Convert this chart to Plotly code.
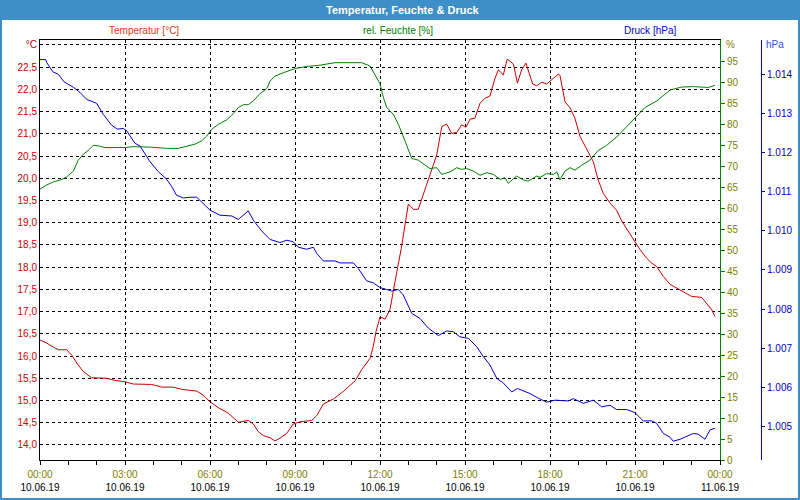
import plotly.graph_objects as go

# ---------------- data (hours since 10.06.19 00:00) ----------------
temp_hours = [0, 0.24, 0.47, 0.65, 0.94, 1.12, 1.30, 1.53, 1.82, 2.35, 2.65, 3.00, 3.29, 3.77, 3.94,
              4.30, 4.70, 5.00, 5.53, 5.76, 6.00, 6.29, 6.65, 7.00, 7.35, 7.53, 7.70, 7.88, 8.12, 8.29,
              8.47, 8.71, 8.94, 9.18, 9.59, 9.77, 10.00, 10.35, 10.70, 11.12, 11.35, 11.65, 11.76, 11.86,
              12.00, 12.18, 12.35, 12.53, 12.75, 13.00, 13.18, 13.35, 13.59, 13.76, 14.00, 14.18, 14.35,
              14.53, 14.71, 14.88, 15.04, 15.18, 15.35, 15.53, 15.71, 15.88, 16.06, 16.18, 16.35, 16.49,
              16.71, 16.85, 17.00, 17.15, 17.39, 17.53, 17.71, 17.88, 18.06, 18.29, 18.35, 18.53, 18.71,
              18.88, 19.06, 19.30, 19.53, 19.70, 19.88, 20.12, 20.35, 20.53, 20.76, 21.00, 21.18, 21.41,
              21.59, 21.77, 22.00, 22.24, 22.59, 23.00, 23.35, 23.53, 23.71, 23.82]
temp_values = [16.36, 16.29, 16.20, 16.14, 16.14, 16.02, 15.84, 15.65, 15.51, 15.50, 15.45, 15.42, 15.37,
               15.37, 15.36, 15.30, 15.30, 15.25, 15.21, 15.12, 14.97, 14.84, 14.71, 14.51, 14.55, 14.47,
               14.30, 14.21, 14.16, 14.09, 14.15, 14.26, 14.47, 14.52, 14.55, 14.66, 14.92, 15.03, 15.20,
               15.44, 15.69, 15.95, 16.21, 16.55, 16.88, 16.83, 17.04, 17.67, 18.42, 19.42, 19.30, 19.30,
               19.74, 20.07, 20.52, 21.16, 21.22, 21.01, 21.03, 21.20, 21.15, 21.33, 21.35, 21.69, 21.80,
               21.85, 22.25, 22.44, 22.32, 22.68, 22.57, 22.14, 22.44, 22.59, 22.12, 22.08, 22.16, 22.12,
               22.21, 22.34, 22.32, 21.72, 21.58, 21.35, 20.94, 20.64, 20.37, 19.96, 19.66, 19.44, 19.28,
               19.04, 18.80, 18.57, 18.39, 18.20, 18.09, 18.01, 17.79, 17.61, 17.49, 17.34, 17.32, 17.19,
               17.04, 16.89]

hum_hours = [0, 0.24, 0.47, 0.77, 0.94, 1.18, 1.35, 1.53, 1.70, 1.88, 2.06, 2.29, 3.00, 3.29, 3.88, 4.47,
             4.88, 5.18, 5.47, 5.71, 5.88, 6.06, 6.29, 6.59, 6.77, 7.00, 7.18, 7.35, 7.53, 7.76, 8.00, 8.12,
             8.29, 8.59, 9.00, 9.41, 9.88, 10.41, 11.35, 11.65, 12.00, 12.12, 12.24, 12.47, 12.65, 12.88,
             13.12, 13.35, 13.53, 13.76, 14.00, 14.18, 14.47, 14.71, 14.88, 15.06, 15.29, 15.53, 15.77,
             16.00, 16.24, 16.41, 16.53, 16.82, 17.06, 17.23, 17.53, 17.65, 17.88, 18.12, 18.24, 18.35,
             18.53, 18.71, 18.88, 19.12, 19.41, 19.70, 20.00, 20.35, 20.71, 21.06, 21.35, 21.77, 22.24,
             22.65, 23.06, 23.59, 23.82]
hum_values = [64.5, 65.5, 66.2, 66.8, 67.4, 68.8, 71.4, 72.8, 73.7, 74.9, 74.8, 74.4, 74.4, 74.6, 74.5,
              74.2, 74.2, 74.8, 75.2, 76.0, 77.1, 78.7, 79.9, 81.0, 82.1, 83.9, 84.6, 84.6, 85.5, 87.2,
              88.4, 90.2, 91.4, 92.2, 93.2, 93.7, 94.0, 94.6, 94.6, 93.8, 89.6, 86.3, 83.9, 82.3, 79.9,
              76.0, 71.8, 71.4, 70.6, 69.4, 69.6, 68.0, 68.6, 69.6, 69.2, 69.4, 68.8, 67.8, 68.4, 68.0,
              66.8, 67.2, 65.9, 67.6, 66.7, 66.4, 67.6, 67.3, 68.2, 68.0, 68.6, 66.7, 68.8, 69.6, 69.0,
              70.2, 71.4, 73.7, 74.9, 76.9, 79.4, 81.8, 83.9, 85.5, 88.1, 88.8, 88.9, 88.7, 89.2]

press_hours = [0, 0.20, 0.24, 0.45, 0.65, 0.85, 1.18, 1.41, 1.65, 2.00, 2.23, 2.53, 2.73, 2.94, 3.06,
               3.35, 3.53, 3.88, 4.18, 4.47, 4.65, 4.82, 5.06, 5.29, 5.53, 5.76, 6.00, 6.35, 6.77, 7.00,
               7.35, 7.53, 7.82, 8.12, 8.47, 8.71, 8.94, 9.12, 9.41, 9.65, 9.77, 10.00, 10.41, 10.59,
               11.06, 11.23, 11.53, 11.76, 12.00, 12.24, 12.41, 12.65, 12.82, 13.12, 13.41, 13.71, 14.06,
               14.35, 14.59, 14.82, 15.12, 15.41, 15.65, 15.88, 16.12, 16.35, 16.65, 16.85, 17.29, 17.59,
               17.88, 18.18, 18.65, 18.82, 19.18, 19.53, 19.82, 20.12, 20.35, 20.71, 21.00, 21.29, 21.59,
               21.76, 22.00, 22.24, 22.35, 22.59, 23.06, 23.23, 23.47, 23.65, 23.82]
press_values = [1014.38, 1014.38, 1014.30, 1014.07, 1014.00, 1013.81, 1013.67, 1013.54, 1013.36, 1013.26,
                1012.98, 1012.70, 1012.60, 1012.62, 1012.56, 1012.24, 1012.17, 1011.77, 1011.51, 1011.32,
                1011.13, 1010.91, 1010.84, 1010.86, 1010.86, 1010.70, 1010.53, 1010.40, 1010.38, 1010.29,
                1010.51, 1010.27, 1010.00, 1009.78, 1009.70, 1009.76, 1009.72, 1009.58, 1009.53, 1009.58,
                1009.42, 1009.23, 1009.23, 1009.18, 1009.18, 1009.04, 1008.72, 1008.67, 1008.55, 1008.50,
                1008.46, 1008.50, 1008.36, 1007.89, 1007.76, 1007.51, 1007.32, 1007.44, 1007.42, 1007.29,
                1007.25, 1007.04, 1006.78, 1006.57, 1006.23, 1006.11, 1005.88, 1005.97, 1005.84, 1005.72,
                1005.62, 1005.67, 1005.65, 1005.71, 1005.59, 1005.67, 1005.50, 1005.54, 1005.43, 1005.43,
                1005.35, 1005.14, 1005.14, 1005.08, 1004.82, 1004.72, 1004.62, 1004.67, 1004.82, 1004.80,
                1004.67, 1004.91, 1004.95]

x_tick_hours = [0, 3, 6, 9, 12, 15, 18, 21, 24]
x_tick_times = ["00:00", "03:00", "06:00", "09:00", "12:00", "15:00", "18:00", "21:00", "00:00"]
x_tick_dates = ["10.06.19"] * 8 + ["11.06.19"]

temp_ticks = [14.0, 14.5, 15.0, 15.5, 16.0, 16.5, 17.0, 17.5, 18.0, 18.5, 19.0, 19.5, 20.0, 20.5,
              21.0, 21.5, 22.0, 22.5, 23.0]
hum_ticks = list(range(0, 100, 5))
press_ticks = [1005, 1006, 1007, 1008, 1009, 1010, 1011, 1012, 1013, 1014]

title = "Temperatur, Feuchte & Druck"
series_names = ["Temperatur [°C]", "rel. Feuchte [%]", "Druck [hPa]"]

# ---------------- styling ----------------
FONT = "Liberation Sans"
RED = "#cc0000"
GREEN = "#008000"
BLUE = "#0000cc"
OLIVE = "#808000"
BAR = "#3d8fc8"

fig = go.Figure()
fig.add_trace(go.Scatter(x=temp_hours, y=temp_values, mode="lines", name=series_names[0],
                         line=dict(color=RED, width=1), yaxis="y"))
fig.add_trace(go.Scatter(x=hum_hours, y=hum_values, mode="lines", name=series_names[1],
                         line=dict(color=GREEN, width=1), yaxis="y2"))
fig.add_trace(go.Scatter(x=press_hours, y=press_values, mode="lines", name=series_names[2],
                         line=dict(color=BLUE, width=1), yaxis="y3"))

W, H = 800, 500
ML, MR, MT, MB = 40, 39, 40, 40
PW = W - ML - MR
PH = H - MT - MB


def px(x):
    return (x - ML) / PW


def py(y):
    return (H - MB - y) / PH


temp_text = [f"{v:.1f}".replace(".", ",") for v in temp_ticks[:-1]] + ["<span style='color:#b00000'>°C</span>"]
x_text = [f"<span style='color:{OLIVE}'>{t}</span><br>{d}" for t, d in zip(x_tick_times, x_tick_dates)]
press_text = [f"{v // 1000}.{v % 1000:03d}" for v in press_ticks]

xdom_end = (720 - ML) / PW

fig.update_layout(
    width=W, height=H,
    margin=dict(l=ML, r=MR, t=MT, b=MB, autoexpand=False),
    paper_bgcolor="white", plot_bgcolor="white",
    showlegend=False,
    font=dict(family=FONT, size=10, color="black"),
    xaxis=dict(domain=[0, xdom_end], range=[0, 24], tickmode="array", tickvals=x_tick_hours,
               ticktext=x_text, ticks="outside", ticklen=4, tickcolor="black", ticklabelstandoff=1,
               automargin=False,
               showline=True, linecolor="black", linewidth=1, mirror=True,
               showgrid=True, gridcolor="black", gridwidth=1, griddash="3px,3px",
               zeroline=False, tickfont=dict(family=FONT, size=10, color="black"),
               minor=dict(dtick=1, tick0=0, ticks="outside", ticklen=4, tickcolor="black", showgrid=False)),
    yaxis=dict(range=[13.66, 23.11], tickmode="array", tickvals=temp_ticks, ticktext=temp_text,
               ticks="", showline=True, linecolor="black", linewidth=1, automargin=False,
               showgrid=True, gridcolor="black", gridwidth=1, griddash="3px,3px", zeroline=False,
               tickfont=dict(family=FONT, size=10, color=RED)),
    yaxis2=dict(range=[0, 100], overlaying="y", side="right", anchor="x", automargin=False,
                tickmode="array", tickvals=hum_ticks, ticks="outside", ticklen=4, tickcolor=GREEN,
                showline=True, linecolor=GREEN, linewidth=1, showgrid=False, zeroline=False,
                tickfont=dict(family=FONT, size=10, color=OLIVE)),
    yaxis3=dict(range=[1004.14, 1014.88], overlaying="y", side="right", anchor="free", position=1.0,
                automargin=False,
                tickmode="array", tickvals=press_ticks, ticktext=press_text, ticks="outside", ticklen=3,
                tickcolor=BLUE, showline=True, linecolor=BLUE, linewidth=1, showgrid=False, zeroline=False,
                tickfont=dict(family=FONT, size=10, color=BLUE)),
    shapes=[
        dict(type="rect", xref="paper", yref="paper", x0=px(0), x1=px(800), y0=py(0), y1=py(20),
             fillcolor=BAR, line=dict(width=0), layer="below"),
        dict(type="rect", xref="paper", yref="paper", x0=px(1), x1=px(799), y0=py(1), y1=py(499),
             fillcolor="rgba(0,0,0,0)", line=dict(color=BAR, width=2)),
    ],
    annotations=[
        dict(text=f"<b>{title}</b>", xref="paper", yref="paper", x=px(402), y=py(10), showarrow=False,
             xanchor="center", yanchor="middle", font=dict(family=FONT, size=11, color="white")),
        dict(text=series_names[0], xref="paper", yref="paper", x=px(144), y=py(30), showarrow=False,
             xanchor="center", yanchor="middle", font=dict(family=FONT, size=10, color="#d83a14")),
        dict(text=series_names[1], xref="paper", yref="paper", x=px(398), y=py(30), showarrow=False,
             xanchor="center", yanchor="middle", font=dict(family=FONT, size=10, color=GREEN)),
        dict(text=series_names[2], xref="paper", yref="paper", x=px(650), y=py(30), showarrow=False,
             xanchor="center", yanchor="middle", font=dict(family=FONT, size=10, color=BLUE)),
        dict(text="%", xref="paper", yref="paper", x=px(724), y=py(45), showarrow=False,
             xanchor="left", yanchor="middle", font=dict(family=FONT, size=10, color=OLIVE)),
        dict(text="hPa", xref="paper", yref="paper", x=px(764), y=py(45), showarrow=False,
             xanchor="left", yanchor="middle", font=dict(family=FONT, size=10, color="#3050d0")),
    ],
)

fig.write_html("out.html")
